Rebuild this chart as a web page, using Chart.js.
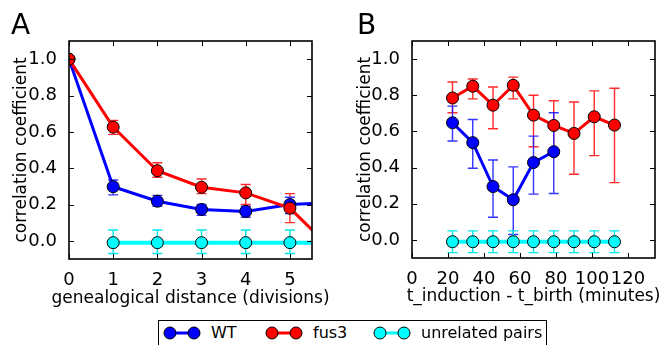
<!DOCTYPE html>
<html><head><meta charset="utf-8">
<script src="https://cdn.jsdelivr.net/npm/chart.js@4"></script>
<style>
html,body{margin:0;padding:0;background:#fff;}
#wrap{position:relative;width:665px;height:345px;overflow:hidden;background:#fff;font-family:"DejaVu Sans",sans-serif;}
.cv{position:absolute;top:0;}
.lbl{position:absolute;font-size:28px;line-height:28px;color:#000;}
#legend{position:absolute;left:158px;top:320px;width:389px;height:40px;border:1.5px solid #000;box-sizing:border-box;background:#fff;}
.li{position:absolute;top:2.5px;font-size:16px;line-height:18px;white-space:nowrap;}
.lm{position:absolute;top:0.5px;}
</style></head>
<body>
<div id="wrap">
  <canvas id="ca" class="cv" width="340" height="310" style="left:0"></canvas>
  <canvas id="cb" class="cv" width="330" height="310" style="left:335px"></canvas>
  <div class="lbl" style="left:11px;top:11px">A</div>
  <div class="lbl" style="left:357px;top:11px">B</div>
  <div id="legend"></div>
</div>
<script>
// ---- data ----
const legendLabels = ["WT", "fus3", "unrelated pairs"];
const yTicks = [0, 0.2, 0.4, 0.6, 0.8, 1.0];
const xTicksA = [0, 1, 2, 3, 4, 5];
const xTicksB = [0, 20, 40, 60, 80, 100, 120];

const divisions = [0, 1, 2, 3, 4, 5, 6];
const wtA    = [1.0, 0.298, 0.218, 0.173, 0.162, 0.200, 0.21];
const wtALo  = [null, 0.253, 0.19, 0.14, 0.13, 0.15, null];
const wtAHi  = [null, 0.335, 0.25, 0.20, 0.19, 0.24, null];
const fus3A   = [1.0, 0.626, 0.386, 0.295, 0.264, 0.180, -0.06];
const fus3ALo = [null, 0.586, 0.35, 0.26, 0.20, 0.10, null];
const fus3AHi = [null, 0.663, 0.43, 0.34, 0.31, 0.26, null];
const divisionsUnrel = [1, 2, 3, 4, 5, 6];
const unrelA   = [-0.01, -0.01, -0.01, -0.01, -0.01, -0.01];
const unrelALo = [-0.07, -0.07, -0.07, -0.07, -0.07, -0.07];
const unrelAHi = [0.06, 0.06, 0.06, 0.06, 0.06, 0.06];

const timesB = [22.5, 33.75, 45, 56.25, 67.5, 78.75, 90, 101.25, 112.5];
const fus3B   = [0.785, 0.85, 0.745, 0.855, 0.69, 0.633, 0.589, 0.681, 0.635];
const fus3BLo = [0.703, 0.78, 0.615, 0.78, 0.515, 0.47, 0.363, 0.466, 0.317];
const fus3BHi = [0.873, 0.89, 0.846, 0.90, 0.80, 0.77, 0.763, 0.824, 0.839];
const wtB   = [0.648, 0.538, 0.295, 0.222, 0.428, 0.488];
const wtBLo = [0.547, 0.396, 0.125, 0.03, 0.253, 0.257];
const wtBHi = [0.74, 0.666, 0.442, 0.404, 0.574, 0.703];
const unrelB   = [-0.01, -0.01, -0.01, -0.01, -0.01, -0.01, -0.01, -0.01, -0.01];
const unrelBLo = [-0.07, -0.07, -0.07, -0.07, -0.07, -0.07, -0.07, -0.07, -0.07];
const unrelBHi = [0.05, 0.05, 0.05, 0.05, 0.05, 0.05, 0.05, 0.05, 0.05];

const COLORS = {wt: "#0000ff", fus3: "#ff0000", unrel: "#00ffff"};
const ERRCOL = {wt: "rgba(30,30,255,0.9)", fus3: "rgba(255,20,20,0.9)", unrel: "#00e8e8"};
const FONT = "DejaVu Sans";

function pts(xs, ys) { return xs.map((x, i) => ({x: x, y: ys[i]})); }

function ds(label, xs, ys, lo, hi, key, width) {
  return {
    label: label, data: pts(xs, ys), errLo: lo, errHi: hi, errColor: ERRCOL[key],
    borderColor: COLORS[key], backgroundColor: COLORS[key], borderWidth: width,
    pointRadius: 6, pointBorderColor: "#000", pointBorderWidth: 1,
    pointBackgroundColor: COLORS[key], tension: 0, clip: 0, fill: false
  };
}

const errorBars = {
  id: "errorBars",
  beforeDatasetsDraw(chart) {
    const ctx = chart.ctx, a = chart.chartArea;
    const xs = chart.scales.x, ys = chart.scales.y;
    ctx.save();
    ctx.beginPath(); ctx.rect(a.left, a.top, a.right - a.left, a.bottom - a.top); ctx.clip();
    chart.data.datasets.forEach(d => {
      ctx.strokeStyle = d.errColor; ctx.lineWidth = 1.4;
      d.data.forEach((p, i) => {
        const lo = d.errLo[i], hi = d.errHi[i];
        if (lo == null || hi == null) return;
        const px = xs.getPixelForValue(p.x);
        const y1 = ys.getPixelForValue(lo), y2 = ys.getPixelForValue(hi);
        ctx.beginPath();
        ctx.moveTo(px, y1); ctx.lineTo(px, y2);
        ctx.moveTo(px - 5, y1); ctx.lineTo(px + 5, y1);
        ctx.moveTo(px - 5, y2); ctx.lineTo(px + 5, y2);
        ctx.stroke();
      });
    });
    ctx.restore();
  }
};

const frameTicks = {
  id: "frameTicks",
  afterDraw(chart, args, opts) {
    const ctx = chart.ctx, a = chart.chartArea;
    const xs = chart.scales.x, ys = chart.scales.y;
    ctx.save();
    ctx.strokeStyle = "#000"; ctx.lineWidth = 1;
    ctx.beginPath();
    xs.ticks.forEach(t => {
      const px = Math.round(xs.getPixelForValue(t.value)) + 0.5;
      ctx.moveTo(px, a.bottom); ctx.lineTo(px, a.bottom - 5);
      ctx.moveTo(px, a.top); ctx.lineTo(px, a.top + 5);
    });
    ys.ticks.forEach(t => {
      const py = Math.round(ys.getPixelForValue(t.value)) + 0.5;
      ctx.moveTo(a.left, py); ctx.lineTo(a.left + 5, py);
      ctx.moveTo(a.right, py); ctx.lineTo(a.right - 5, py);
    });
    ctx.stroke();
    ctx.lineWidth = 1.6;
    ctx.strokeRect(a.left, a.top, a.right - a.left, a.bottom - a.top);
    // x-axis title, centred on the plot area, not squeezed to the axis width
    ctx.fillStyle = "#000";
    ctx.font = "17px '" + FONT + "'";
    ctx.textAlign = "center"; ctx.textBaseline = "alphabetic";
    ctx.fillText(opts.text, (a.left + a.right) / 2, opts.baseline);
    ctx.restore();
  }
};

function makeChart(id, datasets, xMax, xTicks, xTitle, geom) {
  return new Chart(document.getElementById(id), {
    type: "line",
    data: {datasets: datasets},
    options: {
      responsive: false, animation: false,
      layout: {padding: {top: geom.top, right: geom.right, left: 0, bottom: 0}},
      plugins: {legend: {display: false}, tooltip: {enabled: false},
                frameTicks: {text: xTitle, baseline: geom.titleBase}},
      scales: {
        x: {
          type: "linear", min: 0, max: xMax,
          afterBuildTicks: s => { s.ticks = xTicks.map(v => ({value: v})); },
          afterFit: s => { s.height = geom.xh; },
          grid: {display: false}, border: {display: false},
          ticks: {color: "#000", padding: 3, font: {family: FONT, size: 18}, maxRotation: 0, autoSkip: false,
                  callback: v => String(v)},
          title: {display: false}
        },
        y: {
          type: "linear", min: -0.1, max: 1.1,
          afterBuildTicks: s => { s.ticks = yTicks.map(v => ({value: v})); },
          afterFit: s => { s.width = geom.left; },
          grid: {display: false}, border: {display: false},
          ticks: {color: "#000", padding: 4, font: {family: FONT, size: 18}, callback: v => Number(v).toFixed(1)},
          title: {display: true, text: "correlation coefficient", color: "#000",
                  font: {family: FONT, size: 17}, padding: {top: geom.ytp, bottom: 0}}
        }
      }
    },
    plugins: [errorBars, frameTicks]
  });
}

makeChart("ca", [
  ds(legendLabels[1], divisions, fus3A, fus3ALo, fus3AHi, "fus3", 3),
  ds(legendLabels[0], divisions, wtA, wtALo, wtAHi, "wt", 3),
  ds(legendLabels[2], divisionsUnrel, unrelA, unrelALo, unrelAHi, "unrel", 4)
], 5.5, xTicksA, "genealogical distance (divisions)",
   {top: 41, right: 28, left: 69, xh: 310 - 259, ytp: 11, titleBase: 303});

makeChart("cb", [
  ds(legendLabels[1], timesB, fus3B, fus3BLo, fus3BHi, "fus3", 3),
  ds(legendLabels[0], timesB.slice(0, wtB.length), wtB, wtBLo, wtBHi, "wt", 3),
  ds(legendLabels[2], timesB, unrelB, unrelBLo, unrelBHi, "unrel", 4)
], 135, xTicksB, "t_induction - t_birth (minutes)",
   {top: 41, right: 10, left: 77, xh: 310 - 258, ytp: 20, titleBase: 301});

// ---- legend ----
const legend = document.getElementById("legend");
const legendKeys = ["wt", "fus3", "unrel"];
const legendX = [4, 106, 214];
legendLabels.forEach((lab, i) => {
  const c = COLORS[legendKeys[i]];
  const m = document.createElement("div");
  m.className = "lm"; m.style.left = legendX[i] + "px";
  m.innerHTML = '<svg width="40" height="22"><line x1="7" y1="11" x2="31" y2="11" stroke="' + c + '" stroke-width="3"/>' +
    '<circle cx="7" cy="11" r="6" fill="' + c + '" stroke="#000" stroke-width="1"/>' +
    '<circle cx="31" cy="11" r="6" fill="' + c + '" stroke="#000" stroke-width="1"/></svg>';
  legend.appendChild(m);
  const t = document.createElement("div");
  t.className = "li"; t.style.left = (legendX[i] + 48) + "px"; t.textContent = lab;
  legend.appendChild(t);
});
</script>
</body></html>
